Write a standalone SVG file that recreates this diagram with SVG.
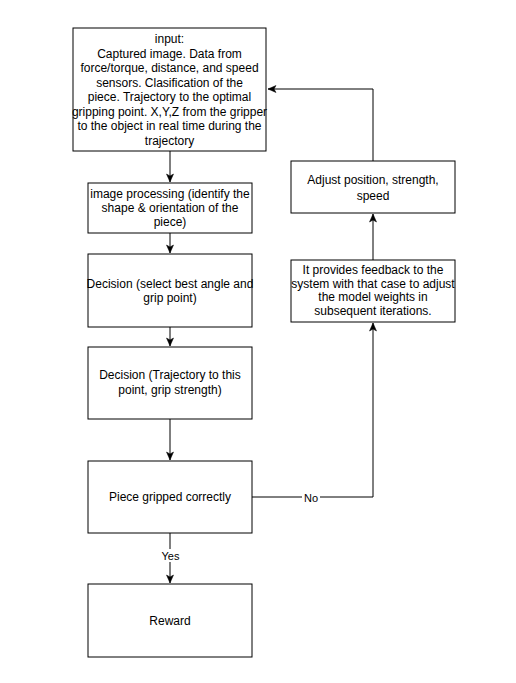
<svg xmlns="http://www.w3.org/2000/svg" width="516" height="683" viewBox="0 0 516 683">
<style>
.box{fill:#fff;stroke:#000;stroke-width:1}
.t{font-family:"Liberation Sans",Arial,sans-serif;font-size:12px;fill:#000;text-anchor:middle}
.e{fill:none;stroke:#000;stroke-width:1}
.lbl{font-family:"Liberation Sans",Arial,sans-serif;font-size:11px;fill:#000;text-anchor:middle}
</style>
<defs>
<marker id="arr" markerUnits="userSpaceOnUse" markerWidth="10" markerHeight="10" viewBox="0 0 10 10" refX="9" refY="5" orient="auto">
<path d="M1,1.5 L9,5 L1,8.5 L3,5 z" fill="#000" stroke="#000" stroke-width="0.5"/>
</marker>
</defs>
<rect width="516" height="683" fill="#fff"/>
<g id="connectors">
<path class="e" d="M170,151 V182" marker-end="url(#arr)"/>
<path class="e" d="M170,233 V253" marker-end="url(#arr)"/>
<path class="e" d="M170,327 V346" marker-end="url(#arr)"/>
<path class="e" d="M170,419 V460" marker-end="url(#arr)"/>
<path class="e" d="M170,533 V583" marker-end="url(#arr)"/>
<path class="e" d="M252,497 H373 V323" marker-end="url(#arr)"/>
<path class="e" d="M373,260 V214" marker-end="url(#arr)"/>
<path class="e" d="M373,161 V89 H268" marker-end="url(#arr)"/>
<rect x="160" y="549" width="21" height="13" fill="#fff"/>
<text class="lbl" x="170.5" y="560">Yes</text>
<rect x="302" y="491" width="18" height="13" fill="#fff"/>
<text class="lbl" x="311" y="502">No</text>
</g>
<g id="input">
<rect class="box" x="73" y="28" width="193" height="123"/>
<text class="t"><tspan x="169.5" y="43">input:</tspan><tspan x="169.5" y="57.5">Captured image. Data from</tspan><tspan x="169.5" y="72">force/torque, distance, and speed</tspan><tspan x="169.5" y="86.5">sensors. Clasification of the</tspan><tspan x="169.5" y="101">piece. Trajectory to the optimal</tspan><tspan x="169.5" y="115.5">gripping point. X,Y,Z from the gripper</tspan><tspan x="169.5" y="130">to the object in real time during the</tspan><tspan x="169.5" y="144.5">trajectory</tspan></text>
</g>
<g id="imgproc">
<rect class="box" x="88" y="183" width="164" height="50"/>
<text class="t"><tspan x="170" y="198">image processing (identify the</tspan><tspan x="170" y="212">shape &amp; orientation of the</tspan><tspan x="170" y="226">piece)</tspan></text>
</g>
<g id="decision1">
<rect class="box" x="88" y="254" width="164" height="73"/>
<text class="t"><tspan x="170" y="287.5">Decision (select best angle and</tspan><tspan x="170" y="302">grip point)</tspan></text>
</g>
<g id="decision2">
<rect class="box" x="88" y="347" width="164" height="72"/>
<text class="t"><tspan x="170" y="379">Decision (Trajectory to this</tspan><tspan x="170" y="394">point, grip strength)</tspan></text>
</g>
<g id="gripped">
<rect class="box" x="88" y="461" width="164" height="72"/>
<text class="t" x="170" y="501">Piece gripped correctly</text>
</g>
<g id="reward">
<rect class="box" x="88" y="584" width="164" height="73"/>
<text class="t" x="170" y="625">Reward</text>
</g>
<g id="feedback">
<rect class="box" x="291" y="260" width="164" height="62"/>
<text class="t"><tspan x="373" y="274">It provides feedback to the</tspan><tspan x="373" y="287.5">system with that case to adjust</tspan><tspan x="373" y="301">the model weights in</tspan><tspan x="373" y="314.5">subsequent iterations.</tspan></text>
</g>
<g id="adjust">
<rect class="box" x="291" y="161" width="164" height="52"/>
<text class="t"><tspan x="373" y="184">Adjust position, strength,</tspan><tspan x="373" y="200">speed</tspan></text>
</g>
</svg>
